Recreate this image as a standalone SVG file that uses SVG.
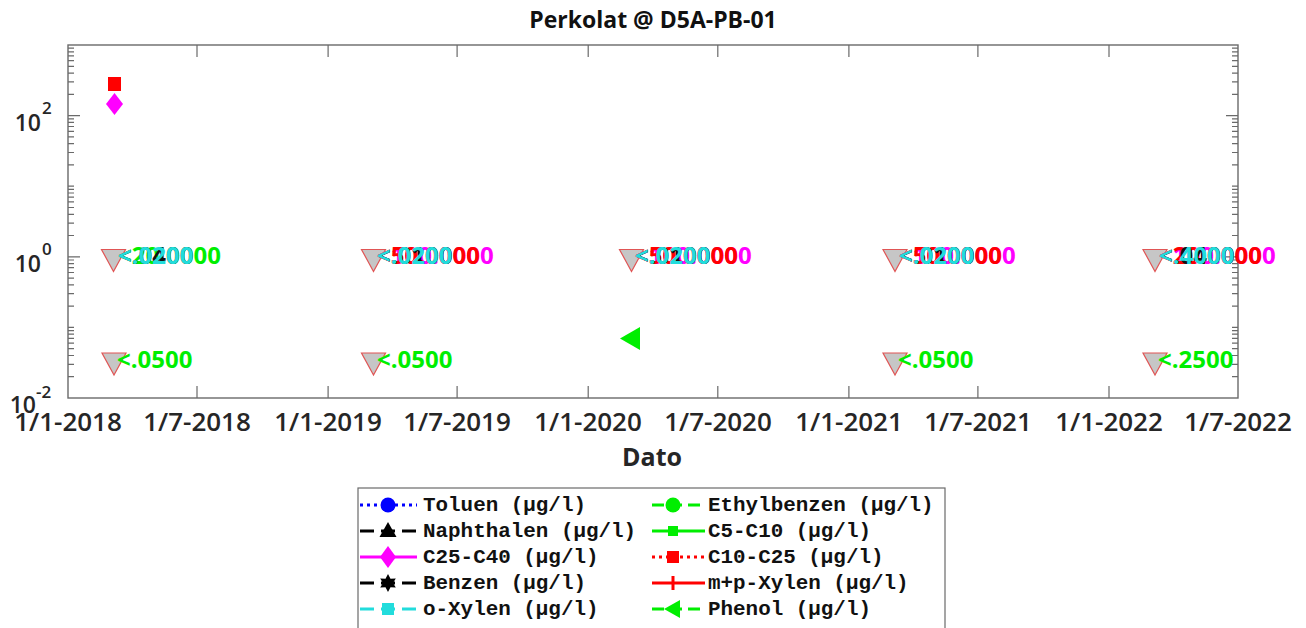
<svg xmlns="http://www.w3.org/2000/svg" width="1306" height="628" viewBox="0 0 1306 628">
  <defs>
    <style>
      .title { font-family: "Open Sans", "Liberation Sans", sans-serif; font-weight: 700; font-size: 23px; fill: #111; }
      .tick { font-family: "Open Sans", "Liberation Sans", sans-serif; font-weight: 600; font-size: 26px; fill: #262626; }
      .ytick { font-family: "Open Sans", "Liberation Sans", sans-serif; font-weight: 600; font-size: 23px; fill: #262626; }
      .ysup { font-family: "Open Sans", "Liberation Sans", sans-serif; font-weight: 600; font-size: 17px; fill: #262626; }
      .xlabel { font-family: "Open Sans", "Liberation Sans", sans-serif; font-weight: 700; font-size: 25px; fill: #262626; }
      .lbl { font-family: "Open Sans", "Liberation Sans", sans-serif; font-weight: 700; font-size: 24px; }
      .leg { font-family: "Liberation Mono", "DejaVu Sans Mono", monospace; font-weight: 700; font-size: 20.9px; fill: #111; }
      .axis { fill: none; stroke: #6a6a6a; stroke-width: 1.4; }
      .ticks { fill: none; stroke: #6a6a6a; stroke-width: 1.2; }
      .lt { fill: #c6c6c6; stroke: #e05555; stroke-width: 1.2; stroke-linejoin: miter; }
      .g { fill: #00ee00; }
      .c { fill: #22dcdc; }
      .k { fill: #111111; }
      .r { fill: #ff0000; }
      .m { fill: #ff00ff; }
    </style>
    <!-- "below detection limit" marker: downward triangle -->
    <path id="lim" class="lt" d="M-12,-9 L12,-9 L0,13 Z"/>
  </defs>

  <rect width="1306" height="628" fill="#ffffff"/>

  <text class="title" x="653" y="28" text-anchor="middle">Perkolat @ D5A-PB-01</text>

  <!-- axes frame and ticks -->
  <g id="axes">
    <rect class="axis" x="68" y="45" width="1170" height="353"/>
    <!-- x ticks, bottom and top -->
    <path class="ticks" d="M197,398 v-12 M328.1,398 v-12 M457.1,398 v-12 M588.2,398 v-12 M717.8,398 v-12 M848.9,398 v-12 M977.9,398 v-12 M1109,398 v-12
      M197,45 v12 M328.1,45 v12 M457.1,45 v12 M588.2,45 v12 M717.8,45 v12 M848.9,45 v12 M977.9,45 v12 M1109,45 v12"/>
    <!-- y major ticks -->
    <path class="ticks" d="M68,256.8 h12 M68,115.6 h12 M1238,256.8 h-12 M1238,115.6 h-12"/>
    <!-- y minor ticks (left) -->
    <path class="ticks" d="M68,376.7h6M68,364.3h6M68,355.5h6M68,348.7h6M68,343.1h6M68,338.3h6M68,334.2h6M68,330.6h6M68,327.4h6
      M68,306.1h6M68,293.7h6M68,284.9h6M68,278.1h6M68,272.5h6M68,267.7h6M68,263.6h6M68,260h6
      M68,235.5h6M68,223.1h6M68,214.3h6M68,207.5h6M68,201.9h6M68,197.1h6M68,193h6M68,189.4h6M68,186.2h6
      M68,164.9h6M68,152.5h6M68,143.7h6M68,136.9h6M68,131.3h6M68,126.5h6M68,122.4h6M68,118.8h6
      M68,94.3h6M68,81.9h6M68,73.1h6M68,66.3h6M68,60.7h6M68,55.9h6M68,51.8h6M68,48.2h6"/>
    <!-- y minor ticks (right) -->
    <path class="ticks" d="M1238,376.7h-6M1238,364.3h-6M1238,355.5h-6M1238,348.7h-6M1238,343.1h-6M1238,338.3h-6M1238,334.2h-6M1238,330.6h-6M1238,327.4h-6
      M1238,306.1h-6M1238,293.7h-6M1238,284.9h-6M1238,278.1h-6M1238,272.5h-6M1238,267.7h-6M1238,263.6h-6M1238,260h-6
      M1238,235.5h-6M1238,223.1h-6M1238,214.3h-6M1238,207.5h-6M1238,201.9h-6M1238,197.1h-6M1238,193h-6M1238,189.4h-6M1238,186.2h-6
      M1238,164.9h-6M1238,152.5h-6M1238,143.7h-6M1238,136.9h-6M1238,131.3h-6M1238,126.5h-6M1238,122.4h-6M1238,118.8h-6
      M1238,94.3h-6M1238,81.9h-6M1238,73.1h-6M1238,66.3h-6M1238,60.7h-6M1238,55.9h-6M1238,51.8h-6M1238,48.2h-6"/>
  </g>

  <!-- y tick labels -->
  <g id="ylabels">
    <text class="ytick" x="41" y="131" text-anchor="end">10</text><text class="ysup" x="42" y="114">2</text>
    <text class="ytick" x="41" y="272" text-anchor="end">10</text><text class="ysup" x="42" y="255">0</text>
    <text class="ytick" x="36" y="413" text-anchor="end">10</text><text class="ysup" x="36" y="398">-2</text>
  </g>

  <!-- x tick labels -->
  <g id="xlabels">
    <text class="tick" x="68" y="431" text-anchor="middle">1/1-2018</text>
    <text class="tick" x="197" y="431" text-anchor="middle">1/7-2018</text>
    <text class="tick" x="328" y="431" text-anchor="middle">1/1-2019</text>
    <text class="tick" x="457" y="431" text-anchor="middle">1/7-2019</text>
    <text class="tick" x="588" y="431" text-anchor="middle">1/1-2020</text>
    <text class="tick" x="718" y="431" text-anchor="middle">1/7-2020</text>
    <text class="tick" x="849" y="431" text-anchor="middle">1/1-2021</text>
    <text class="tick" x="978" y="431" text-anchor="middle">1/7-2021</text>
    <text class="tick" x="1109" y="431" text-anchor="middle">1/1-2022</text>
    <text class="tick" x="1238" y="431" text-anchor="middle">1/7-2022</text>
    <text class="xlabel" x="652" y="466" text-anchor="middle">Dato</text>
  </g>

  <!-- measured values -->
  <g id="measured">
    <rect x="108" y="77" width="13" height="14" fill="#ff0000"/>
    <path d="M114.5,93 L123,104 L114.5,115 L106,104 Z" fill="#ff00ff"/>
    <path d="M620,338.5 L640,327 L640,350 Z" fill="#00ee00"/>
  </g>

  <!-- values below detection limit -->
  <g id="limits-2018">
    <use href="#lim" x="113.5" y="258.5"/>
    <text class="lbl g" x="118" y="263.5">&lt;20.0000</text>
    <text class="lbl k" x="118" y="263.5">&lt;.0400</text>
    <text class="lbl c" x="118" y="263.5">&lt;.0200</text>
    <use href="#lim" x="114" y="362"/>
    <text class="lbl g" x="117" y="367.5">&lt;.0500</text>
  </g>
  <g id="limits-2019">
    <use href="#lim" x="373.5" y="258.5"/>
    <text class="lbl m" x="377" y="263.5">&lt;100.0000</text>
    <text class="lbl r" x="377" y="263.5">&lt;50.0000</text>
    <text class="lbl k" x="377" y="263.5">&lt;.0100</text>
    <text class="lbl c" x="377" y="263.5">&lt;.0200</text>
    <use href="#lim" x="373.5" y="362"/>
    <text class="lbl g" x="377" y="367.5">&lt;.0500</text>
  </g>
  <g id="limits-2020">
    <use href="#lim" x="631.5" y="258.5"/>
    <text class="lbl m" x="635" y="263.5">&lt;100.0000</text>
    <text class="lbl r" x="635" y="263.5">&lt;50.0000</text>
    <text class="lbl k" x="635" y="263.5">&lt;.0100</text>
    <text class="lbl c" x="635" y="263.5">&lt;.0200</text>
  </g>
  <g id="limits-2021">
    <use href="#lim" x="895" y="258.5"/>
    <text class="lbl m" x="899" y="263.5">&lt;100.0000</text>
    <text class="lbl r" x="899" y="263.5">&lt;50.0000</text>
    <text class="lbl k" x="899" y="263.5">&lt;.0100</text>
    <text class="lbl c" x="899" y="263.5">&lt;.0200</text>
    <use href="#lim" x="895" y="362"/>
    <text class="lbl g" x="898" y="367.5">&lt;.0500</text>
  </g>
  <g id="limits-2022">
    <use href="#lim" x="1155" y="258.5"/>
    <text class="lbl m" x="1159" y="263.5">&lt;100.0000</text>
    <text class="lbl r" x="1159" y="263.5">&lt;20.0000</text>
    <text class="lbl k" x="1159" y="263.5">&lt;.0400</text>
    <text class="lbl c" x="1159" y="263.5">&lt;.4000</text>
    <use href="#lim" x="1155" y="362"/>
    <text class="lbl g" x="1158" y="367.5">&lt;.2500</text>
  </g>

  <!-- legend -->
  <g id="legend">
    <rect x="358" y="488" width="587" height="150" fill="#ffffff" stroke="#6a6a6a" stroke-width="1.2"/>
    <g id="leg-toluen">
      <line x1="360" y1="505" x2="417" y2="505" stroke="#0000ff" stroke-width="3" stroke-dasharray="3,4"/>
      <circle cx="388" cy="505" r="7.5" fill="#0000ff"/>
      <text class="leg" x="423" y="511">Toluen (µg/l)</text>
    </g>
    <g id="leg-naphthalen">
      <line x1="360" y1="531" x2="417" y2="531" stroke="#000" stroke-width="3" stroke-dasharray="14,7"/>
      <path d="M388,522 L396.5,537 L379.5,537 Z" fill="#000"/>
      <text class="leg" x="423" y="537">Naphthalen (µg/l)</text>
    </g>
    <g id="leg-c25">
      <line x1="360" y1="557" x2="417" y2="557" stroke="#ff00ff" stroke-width="3"/>
      <path d="M388,546 L396,557 L388,568 L380,557 Z" fill="#ff00ff"/>
      <text class="leg" x="423" y="563">C25-C40 (µg/l)</text>
    </g>
    <g id="leg-benzen">
      <line x1="360" y1="583" x2="417" y2="583" stroke="#000" stroke-width="3" stroke-dasharray="14,7"/>
      <path d="M388,574 L390.5,578.7 L395.8,578.5 L393,583 L395.8,587.5 L390.5,587.3 L388,592 L385.5,587.3 L380.2,587.5 L383,583 L380.2,578.5 L385.5,578.7 Z" fill="#000"/>
      <text class="leg" x="423" y="589">Benzen (µg/l)</text>
    </g>
    <g id="leg-oxylen">
      <line x1="360" y1="609" x2="417" y2="609" stroke="#22dcdc" stroke-width="3" stroke-dasharray="14,7"/>
      <rect x="382" y="603" width="12" height="12" fill="#22dcdc"/>
      <text class="leg" x="423" y="615">o-Xylen (µg/l)</text>
    </g>
    <g id="leg-ethylbenzen">
      <line x1="652" y1="505" x2="705" y2="505" stroke="#00ee00" stroke-width="3" stroke-dasharray="12,6"/>
      <circle cx="673" cy="505" r="7.5" fill="#00ee00"/>
      <text class="leg" x="708" y="511">Ethylbenzen (µg/l)</text>
    </g>
    <g id="leg-c5">
      <line x1="652" y1="531" x2="705" y2="531" stroke="#00ee00" stroke-width="3"/>
      <rect x="668" y="526" width="10" height="10" fill="#00ee00"/>
      <text class="leg" x="708" y="537">C5-C10 (µg/l)</text>
    </g>
    <g id="leg-c10">
      <line x1="652" y1="557" x2="705" y2="557" stroke="#ff0000" stroke-width="3" stroke-dasharray="3,4"/>
      <rect x="667" y="551" width="12" height="12" fill="#ff0000"/>
      <text class="leg" x="708" y="563">C10-C25 (µg/l)</text>
    </g>
    <g id="leg-mpxylen">
      <line x1="652" y1="583" x2="705" y2="583" stroke="#ff0000" stroke-width="3"/>
      <line x1="673" y1="576" x2="673" y2="590" stroke="#ff0000" stroke-width="3"/>
      <text class="leg" x="708" y="589">m+p-Xylen (µg/l)</text>
    </g>
    <g id="leg-phenol">
      <line x1="652" y1="609" x2="705" y2="609" stroke="#00ee00" stroke-width="3" stroke-dasharray="12,6"/>
      <path d="M664,609 L680,600 L680,618 Z" fill="#00ee00"/>
      <text class="leg" x="708" y="615">Phenol (µg/l)</text>
    </g>
  </g>
</svg>
